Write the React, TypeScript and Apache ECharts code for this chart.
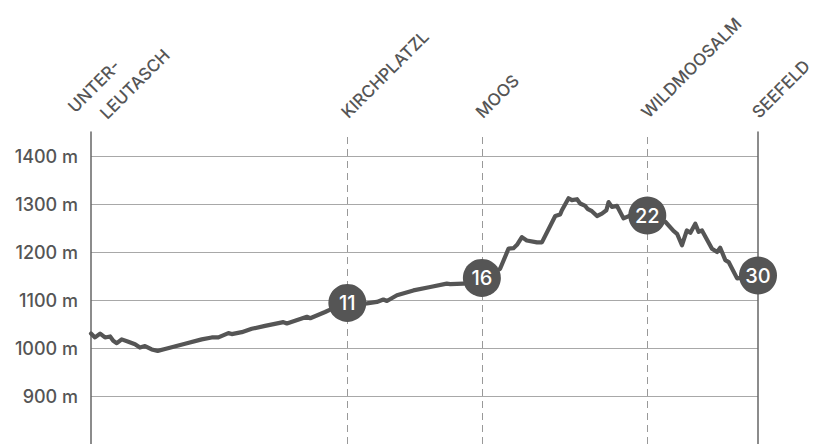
import React, { useEffect, useRef } from "react";
import * as echarts from "echarts";

// Elevation profile (distance in km, elevation in m)
const distKm = [
  0, 0.18, 0.41, 0.63, 0.86, 1.0, 1.16, 1.38, 1.68, 1.98, 2.2, 2.43, 2.73, 3.0, 3.33,
  4.23, 4.98, 5.43, 5.73, 6.18, 6.33, 6.78, 7.23, 7.83, 8.65, 8.81, 9.71, 9.86, 10.53,
  10.76, 11.53, 12.41, 12.86, 13.15, 13.31, 13.76, 14.5, 15.26, 16.0, 16.16, 16.75,
  17.58, 18.4, 18.78, 19.0, 19.16, 19.38, 19.6, 20.06, 20.28, 20.88, 21.1, 21.18, 21.48,
  21.63, 21.86, 22.0, 22.23, 22.33, 22.53, 22.76, 22.98, 23.18, 23.28, 23.43, 23.66,
  23.95, 24.26, 25.02, 25.83, 26.2, 26.36, 26.58, 26.8, 26.96, 27.18, 27.33, 27.48,
  27.93, 28.16, 28.3, 28.53, 28.68, 29.06, 30,
];
const elevation = [
  1030, 1022, 1030, 1022, 1024, 1015, 1010, 1018, 1013, 1008, 1001, 1004, 997, 994, 998,
  1009, 1018, 1022, 1022, 1031, 1029, 1033, 1040, 1046, 1054, 1051, 1065, 1062, 1075,
  1080, 1090, 1093, 1096, 1101, 1098, 1110, 1120, 1127, 1134, 1133, 1134,
  1145, 1165, 1207, 1208, 1215, 1231, 1224, 1220, 1220, 1275, 1278, 1287, 1312,
  1308, 1310, 1301, 1296, 1290, 1285, 1275, 1280, 1287, 1304, 1294, 1296,
  1270, 1276, 1275, 1263, 1244, 1238, 1214, 1245, 1240, 1259, 1242, 1245,
  1207, 1200, 1209, 1183, 1179, 1145, 1151,
];

// Stops (circle markers)
const stopKm = [11.53, 17.58, 25.02, 30];
const stopElev = [1094, 1146, 1276, 1151];
const stopLabel = ["11", "16", "22", "30"];

// Place names at the top (multi-line names are split into their lines)
const placeNames = [["UNTER-", "LEUTASCH"], ["KIRCHPLATZL"], ["MOOS"], ["WILDMOOSALM"], ["SEEFELD"]];
const placeKm = [0, 11.53, 17.58, 25.02, 30];

const yMin = 800;
const yMax = 1450;
const FONT = "Inter, 'Noto Sans', sans-serif";
const TEXT = "#555555";
const PLACE_SIZE = 17;

export default function App() {
  const ref = useRef<HTMLDivElement>(null);

  useEffect(() => {
    if (!ref.current) return;
    const chart = echarts.init(ref.current, undefined, { renderer: "svg" });
    const lineData = distKm.map((d, i) => [d, elevation[i]]);
    const stopData = stopKm.map((d, i) => [d, stopElev[i]]);

    chart.setOption({
      animation: false,
      grid: { left: 91, right: 56, top: 132, bottom: 0, containLabel: false },
      xAxis: {
        type: "value",
        min: 0,
        max: 30,
        axisLine: { show: false },
        axisTick: { show: false },
        axisLabel: { show: false },
        splitLine: { show: false },
      },
      yAxis: [
        {
          type: "value",
          min: yMin,
          max: yMax,
          interval: 50,
          axisLine: { show: true, lineStyle: { color: "#666", width: 1.5 } },
          axisTick: { show: false },
          axisLabel: {
            margin: 13,
            color: TEXT,
            fontFamily: FONT,
            fontSize: 18,
            fontWeight: 500,
            formatter: (v: number) => (v % 100 === 0 && v > yMin ? `${v} m` : ""),
          },
          splitLine: {
            show: true,
            lineStyle: { color: ["#a8a8a8", "rgba(0,0,0,0)"], width: 1.2 },
          },
        },
        {
          type: "value",
          min: yMin,
          max: yMax,
          position: "right",
          axisLine: { show: true, lineStyle: { color: "#666", width: 1.5 } },
          axisTick: { show: false },
          axisLabel: { show: false },
          splitLine: { show: false },
        },
      ],
      series: [
        {
          type: "line",
          data: lineData,
          showSymbol: false,
          symbol: "none",
          lineStyle: { color: "#555", width: 4.2, join: "round", cap: "round" },
          z: 3,
          markLine: {
            silent: true,
            symbol: ["none", "none"],
            label: { show: false },
            lineStyle: { color: "#999", width: 1, type: [7, 5] },
            data: stopKm.slice(0, 3).map((k) => ({ xAxis: k })),
            z: 1,
          },
        },
        {
          type: "scatter",
          data: stopData,
          symbol: "circle",
          symbolSize: 38,
          itemStyle: { color: "#555", opacity: 1 },
          z: 5,
          label: {
            show: true,
            position: "inside",
            color: "#fff",
            fontFamily: FONT,
            fontSize: 20,
            fontWeight: 500,
            formatter: (p: any) => stopLabel[p.dataIndex],
          },
        },
      ],
    });

    // Rotated place names at the top of each vertical line
    const graphics: any[] = [];
    placeNames.forEach((lines, i) => {
      const px = chart.convertToPixel({ xAxisIndex: 0 }, placeKm[i]) as number;
      const anchors =
        lines.length > 1
          ? [
              [px - 14, 115.5],
              [px + 18, 122],
            ]
          : [[px + 3, 121]];
      lines.forEach((t, j) => {
        graphics.push({
          type: "text",
          x: anchors[j][0],
          y: anchors[j][1],
          rotation: Math.PI / 4,
          style: {
            text: t,
            fill: TEXT,
            font: `500 ${PLACE_SIZE}px ${FONT}`,
            align: "left",
            textAlign: "left",
            verticalAlign: "bottom",
            textVerticalAlign: "bottom",
          },
        });
      });
    });
    chart.setOption({ graphic: graphics });

    return () => chart.dispose();
  }, []);

  return (
    <div
      ref={ref}
      style={{ position: "fixed", left: 0, top: 0, width: 814, height: 444, background: "#fff" }}
    />
  );
}
